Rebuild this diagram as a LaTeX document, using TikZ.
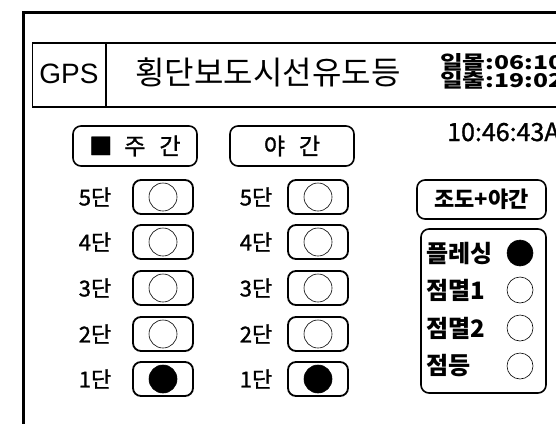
\documentclass[tikz,border=0pt]{standalone}
\usepackage{fontspec}
\setmainfont{Noto Sans CJK KR}
\newfontfamily\gpsfont{Liberation Sans}
\newfontfamily\widefont[FakeStretch=1.3]{Noto Sans CJK KR}
\newfontfamily\semifont[FakeBold=1.2]{Noto Sans CJK KR}
\begin{document}
\begin{tikzpicture}[x=1pt,y=-1pt,
  frame/.style={line width=3pt},
  hbox/.style={line width=1.4pt},
  btn/.style={draw,line width=1.6pt,rounded corners=8pt,minimum width=124pt,minimum height=40pt,inner sep=0pt,font=\semifont\fontsize{23}{25}\selectfont},
  rowbox/.style={draw,line width=1.8pt,rounded corners=8pt,minimum width=60pt,minimum height=34pt,inner sep=0pt},
  lamp/.style={draw,line width=0.6pt,circle,minimum size=28pt,inner sep=0pt},
  lampon/.style={lamp,fill=black},
  mlamp/.style={draw,line width=0.6pt,circle,minimum size=26pt,inner sep=0pt},
  rowlbl/.style={font=\semifont\fontsize{22}{24}\selectfont,inner sep=0pt},
  modelbl/.style={font=\bfseries\fontsize{24}{26}\selectfont,inner sep=0pt,anchor=west}
]
\useasboundingbox (0,0) rectangle (556,423);
\begin{scope}
\clip (0,0) rectangle (556,423);
\draw[frame] (23.5,470) |- (620,12.5);
\draw[hbox] (32.5,43) rectangle (620,107);
\draw[hbox] (106,43) -- (106,107);
\node[inner sep=0pt,font=\gpsfont\fontsize{28}{30}\selectfont] (gps) at (69,74) {GPS};
\node[inner sep=0pt,font=\fontsize{32}{34}\selectfont] (title) at (268,72) {횡단보도시선유도등};
\node[inner sep=0pt,anchor=west,font=\widefont\bfseries\fontsize{19}{20}\selectfont] (sunset) at (440,62) {일몰:06:10};
\node[inner sep=0pt,anchor=west,font=\widefont\bfseries\fontsize{19}{20}\selectfont] (sunrise) at (440,80) {일출:19:02};
\node[btn] (day) at (135,146) {■\hspace{12pt}주\hspace{14pt}간};
\node[btn] (night) at (292,146) {야\hspace{14pt}간};
\node[inner sep=0pt,anchor=west,font=\semifont\fontsize{25}{27}\selectfont] (clock) at (447,132) {10:46:43A};
% rows
\foreach \n/\y in {5/197,4/242,3/288,2/334,1/379}{
  \node[rowlbl] (ll\n) at (95,\y) {\n{}단};
  \node[rowbox] (lb\n) at (163,\y) {};
  \node[rowlbl] (rl\n) at (256,\y) {\n{}단};
  \node[rowbox] (rb\n) at (318,\y) {};
}
\foreach \n in {5,4,3,2}{
  \node[lamp] (lc\n) at (lb\n) {};
  \node[lamp] (rc\n) at (rb\n) {};
}
\node[lampon] (lc1) at (lb1) {};
\node[lampon] (rc1) at (rb1) {};
% right panel
\node[draw,line width=1.6pt,rounded corners=8pt,minimum width=129pt,minimum height=39pt,inner sep=0pt,font=\bfseries\fontsize{22}{24}\selectfont] (lux) at (481.5,199.5) {조도+야간};
\node[draw,line width=1.6pt,rounded corners=8pt,minimum width=125pt,minimum height=164pt,inner sep=0pt] (mode) at (483.5,311) {};
\node[modelbl] (m1) at (426,253) {플레싱};
\node[modelbl] (m2) at (426,290) {점멸1};
\node[modelbl] (m3) at (426,328) {점멸2};
\node[modelbl] (m4) at (426,366) {점등};
\node[mlamp,fill=black] (c1) at (520,253) {};
\node[mlamp] (c2) at (520,290) {};
\node[mlamp] (c3) at (520,328) {};
\node[mlamp] (c4) at (520,366) {};
\end{scope}
\end{tikzpicture}
\end{document}
